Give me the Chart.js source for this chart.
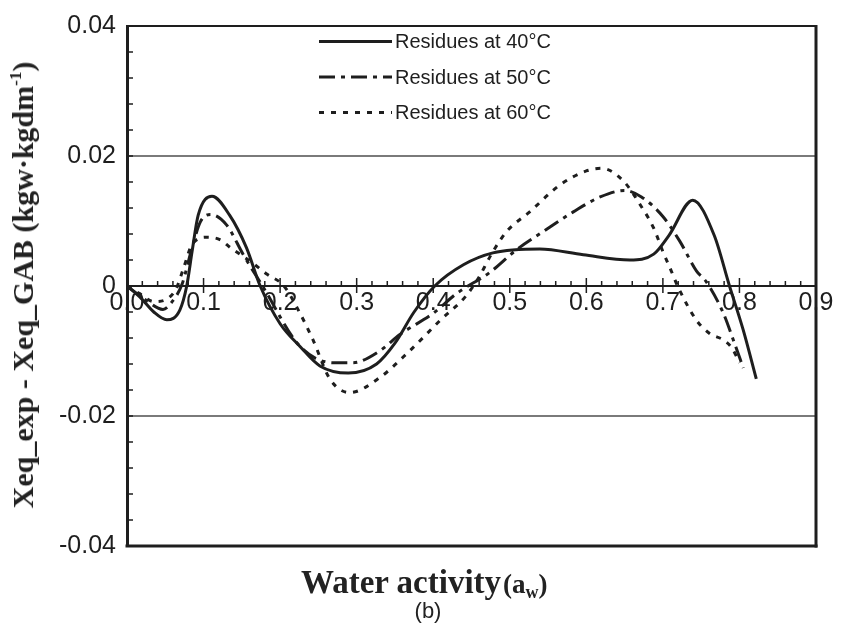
<!DOCTYPE html>
<html>
<head>
<meta charset="utf-8">
<script src="https://cdn.jsdelivr.net/npm/chart.js@4/dist/chart.umd.min.js"></script>
<style>
  html, body { margin: 0; padding: 0; background: #fff; }
  #wrap { position: relative; width: 841px; height: 635px; }
  #chart { position: absolute; left: 0; top: 0; }
  .ytitle {
    position: absolute; left: 23px; top: 285px;
    transform: translate(-50%, -50%) rotate(-90deg);
    white-space: nowrap; color: #222;
    font: bold 30px "Liberation Serif", "Times New Roman", serif;
  }
  .ytitle sup { font-size: 17px; vertical-align: 12px; line-height: 0; }
  .xtitle {
    position: absolute; left: 301px; top: 564px;
    white-space: nowrap; color: #222;
    font: bold 33px "Liberation Serif", "Times New Roman", serif;
  }
  .xtitle .sm { font-size: 27px; margin-left: 2px; }
  .xtitle sub { font-size: 18px; vertical-align: -5px; line-height: 0; }
  .panel {
    position: absolute; left: 428px; top: 598px; transform: translateX(-50%);
    color: #222; font: 22px "Liberation Sans", Arial, sans-serif;
  }
</style>
</head>
<body>
<div id="wrap">
  <canvas id="chart" width="841" height="635"></canvas>
  <div class="ytitle">Xeq_exp - Xeq_GAB (kgw·kgdm<sup>-1</sup>)</div>
  <div class="xtitle">Water activity<span class="sm">(a<sub>w</sub>)</span></div>
  <div class="panel">(b)</div>
</div>
<script>
// residues at 40 °C
const aw40  = [0, 0.017, 0.035, 0.052, 0.069, 0.078, 0.085, 0.093, 0.111, 0.134, 0.156, 0.174, 0.200, 0.226, 0.252, 0.289, 0.326, 0.350, 0.375, 0.402, 0.440, 0.478, 0.539, 0.596, 0.657, 0.688, 0.708, 0.739, 0.767, 0.787, 0.805, 0.822];
const res40 = [0, -0.0017, -0.0040, -0.0052, -0.0037, 0, 0.0053, 0.0109, 0.0138, 0.0109, 0.0059, 0, -0.0058, -0.0093, -0.0123, -0.0134, -0.0120, -0.0088, -0.0040, 0, 0.0033, 0.0051, 0.0057, 0.0048, 0.0040, 0.0049, 0.0078, 0.0132, 0.0078, 0, -0.0068, -0.0143];

// residues at 50 °C
const aw50  = [0, 0.025, 0.047, 0.057, 0.072, 0.085, 0.096, 0.109, 0.130, 0.152, 0.177, 0.226, 0.270, 0.295, 0.330, 0.356, 0.400, 0.430, 0.474, 0.509, 0.544, 0.583, 0.618, 0.650, 0.672, 0.700, 0.722, 0.744, 0.757, 0.779, 0.792, 0.805];
const res50 = [0, -0.0022, -0.0036, -0.0027, 0.0003, 0.0059, 0.0099, 0.0110, 0.0094, 0.0048, 0, -0.0093, -0.0118, -0.0118, -0.0100, -0.0075, -0.0042, -0.0012, 0.0021, 0.0056, 0.0084, 0.0114, 0.0137, 0.0147, 0.0137, 0.0107, 0.0069, 0.0023, 0.0006, -0.0042, -0.0083, -0.0126];

// residues at 60 °C
const aw60  = [0, 0.017, 0.035, 0.063, 0.074, 0.085, 0.105, 0.122, 0.135, 0.161, 0.183, 0.205, 0.226, 0.243, 0.265, 0.291, 0.330, 0.369, 0.409, 0.443, 0.461, 0.470, 0.478, 0.496, 0.526, 0.565, 0.600, 0.620, 0.648, 0.672, 0.688, 0.700, 0.711, 0.720, 0.744, 0.761, 0.779, 0.790, 0.800];
const res60 = [0, -0.0012, -0.0024, -0.0007, 0.0028, 0.0064, 0.0075, 0.0071, 0.0059, 0.0038, 0.0018, 0, -0.0042, -0.0083, -0.0143, -0.0164, -0.0141, -0.0100, -0.0053, -0.0015, 0.0016, 0.0036, 0.0053, 0.0084, 0.0114, 0.0155, 0.0177, 0.0181, 0.0162, 0.0122, 0.0089, 0.0053, 0.0023, -0.0002, -0.0053, -0.0073, -0.0083, -0.0095, -0.0118];

const labels = ['Residues at 40°C', 'Residues at 50°C', 'Residues at 60°C'];
const yTicks = [-0.04, -0.02, 0, 0.02, 0.04];
const xTicks = [0, 0.1, 0.2, 0.3, 0.4, 0.5, 0.6, 0.7, 0.8, 0.9];

const ink = '#1e1e1e';
const tickFont = { family: '"Liberation Sans", Arial, sans-serif', size: 25 };
const pts = (xs, ys) => xs.map((x, i) => ({ x, y: ys[i] }));

const line = (label, data, dash) => ({
  label, data,
  borderColor: ink, borderWidth: 3, borderDash: dash,
  pointRadius: 0, fill: false,
  cubicInterpolationMode: 'monotone'
});

// box around the plot, minor tick marks and the in-plot legend
const frame = {
  id: 'frame',
  afterDraw(chart) {
    const { ctx, chartArea: a, scales: { x, y } } = chart;
    ctx.save();
    ctx.strokeStyle = ink;
    ctx.lineWidth = 2;
    ctx.beginPath(); ctx.moveTo(a.left, a.top); ctx.lineTo(a.right, a.top); ctx.stroke();
    ctx.lineWidth = 3;
    ctx.beginPath(); ctx.moveTo(a.right, a.top - 1); ctx.lineTo(a.right, a.bottom + 1.5); ctx.stroke();
    ctx.beginPath(); ctx.moveTo(a.left - 1.5, a.bottom); ctx.lineTo(a.right + 1.5, a.bottom); ctx.stroke();

    // y ticks every 0.004, pointing inwards
    ctx.lineWidth = 1.5;
    for (let j = -10; j <= 10; j++) {
      const py = y.getPixelForValue(j * 0.004);
      ctx.beginPath(); ctx.moveTo(a.left, py); ctx.lineTo(a.left + 6, py); ctx.stroke();
    }
    // x ticks every 0.02 on the zero line, longer at the labelled values
    const y0 = y.getPixelForValue(0);
    for (let i = 1; i < 45; i++) {
      const px = x.getPixelForValue(i * 0.02);
      const major = i % 5 === 0;
      ctx.beginPath();
      ctx.moveTo(px, y0 - (major ? 8 : 5));
      ctx.lineTo(px, y0 + (major ? 7 : 0));
      ctx.stroke();
    }

    // legend
    ctx.font = '20px "Liberation Sans", Arial, sans-serif';
    ctx.textBaseline = 'middle';
    ctx.fillStyle = ink;
    chart.data.datasets.forEach((ds, k) => {
      const ly = 41.5 + k * 35.5;
      ctx.lineWidth = ds.borderWidth;
      ctx.setLineDash(ds.borderDash || []);
      ctx.beginPath(); ctx.moveTo(319, ly); ctx.lineTo(392, ly); ctx.stroke();
      ctx.setLineDash([]);
      ctx.fillText(ds.label, 395, ly + 1);
    });
    ctx.restore();
  }
};

new Chart(document.getElementById('chart'), {
  type: 'line',
  data: {
    datasets: [
      line(labels[0], pts(aw40, res40), []),
      line(labels[1], pts(aw50, res50), [16, 6, 4, 6]),
      line(labels[2], pts(aw60, res60), [5, 7])
    ]
  },
  options: {
    responsive: false,
    animation: false,
    layout: { padding: { left: 0, right: 25, top: 18, bottom: 89 } },
    plugins: { legend: { display: false }, tooltip: { enabled: false } },
    scales: {
      x: {
        type: 'linear',
        position: { y: 0 },
        min: 0, max: 0.9,
        afterBuildTicks: s => { s.ticks = xTicks.map(value => ({ value })); },
        grid: { display: false, drawTicks: false },
        border: { display: true, color: ink, width: 2 },
        ticks: {
          autoSkip: false, maxRotation: 0, padding: 2, color: ink,
          font: tickFont,
          callback: v => v.toFixed(1)
        }
      },
      y: {
        min: -0.04, max: 0.04,
        afterBuildTicks: s => { s.ticks = yTicks.map(value => ({ value })); },
        afterFit: s => { s.width = 127; },
        grid: {
          drawTicks: false, lineWidth: 2,
          color: c => Math.abs(Math.abs(c.tick.value) - 0.02) < 1e-9 ? '#7a7a7a' : 'rgba(0,0,0,0)'
        },
        border: { display: true, color: ink, width: 3 },
        ticks: {
          padding: 11, color: ink,
          font: tickFont,
          callback: v => Math.abs(v) < 1e-9 ? '0' : v.toFixed(2)
        }
      }
    }
  },
  plugins: [frame]
});
</script>
</body>
</html>
